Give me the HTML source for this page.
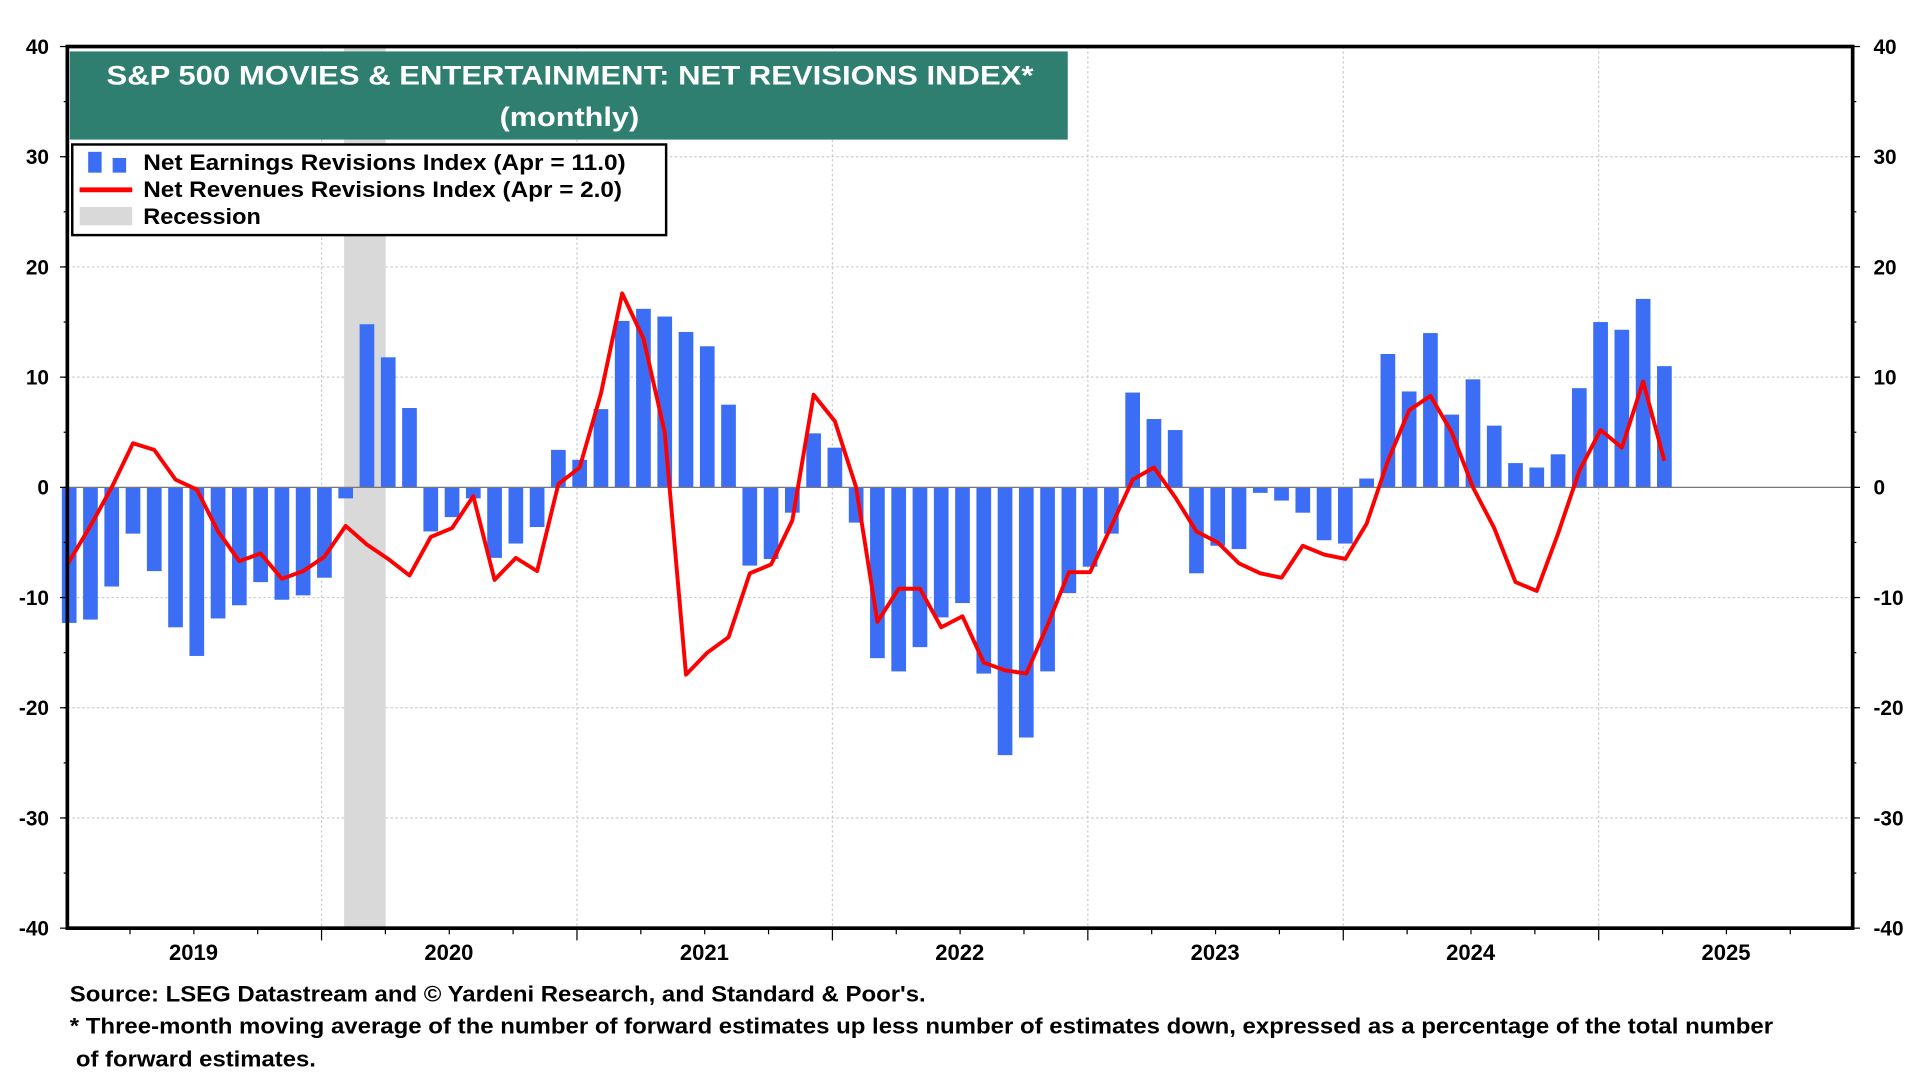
<!DOCTYPE html>
<html><head><meta charset="utf-8"><style>
html,body{margin:0;padding:0;background:#fff;width:1920px;height:1080px;overflow:hidden}
svg{display:block;font-family:"Liberation Sans",Arial,sans-serif;font-weight:bold}
</style></head><body>
<svg id="chart" width="1920" height="1080" viewBox="0 0 1568 882" preserveAspectRatio="none" xmlns="http://www.w3.org/2000/svg">
<g id="grid"></g>
<rect x="281" y="38" width="34" height="720" fill="#d9d9d9"/>
<g id="bars"></g>
<line x1="55" x2="1513" y1="398" y2="398" stroke="#777" stroke-width="1"/>
<polyline id="revline" fill="none" stroke="#ff0000" stroke-width="3.2" stroke-linejoin="round"/>
<rect x="55" y="38" width="1458" height="720" fill="none" stroke="#000" stroke-width="3"/>
<g id="axes"></g>
<g>
<rect x="57" y="42" width="815" height="72" fill="#2e7f70"/>
<text x="87" y="69" fill="#fff" font-size="22" textLength="757" lengthAdjust="spacingAndGlyphs">S&amp;P 500 MOVIES &amp; ENTERTAINMENT: NET REVISIONS INDEX*</text>
<text x="408" y="103" fill="#fff" font-size="22" textLength="114" lengthAdjust="spacingAndGlyphs">(monthly)</text>
</g>
<g>
<rect x="59" y="118" width="485" height="74" fill="#fff" stroke="#000" stroke-width="2"/>
<rect x="72" y="124" width="11" height="17" fill="#3b6ef5"/><rect x="92" y="129" width="11" height="12" fill="#3b6ef5"/>
<text x="117" y="139" font-size="18" textLength="394" lengthAdjust="spacingAndGlyphs">Net Earnings Revisions Index (Apr  = 11.0)</text>
<line x1="65" x2="108" y1="155" y2="155" stroke="#ff0000" stroke-width="4"/>
<text x="117" y="161" font-size="18" textLength="391" lengthAdjust="spacingAndGlyphs">Net Revenues Revisions Index (Apr  = 2.0)</text>
<rect x="65" y="169" width="43" height="15" fill="#d9d9d9"/>
<text x="117" y="183" font-size="18" textLength="96" lengthAdjust="spacingAndGlyphs">Recession</text>
</g>
<text x="57" y="818" font-size="18" textLength="699" lengthAdjust="spacingAndGlyphs">Source: LSEG Datastream and © Yardeni Research, and Standard &amp; Poor's.</text>
<text x="57" y="844" font-size="18" textLength="1391" lengthAdjust="spacingAndGlyphs">* Three-month moving average of the number of forward estimates up less number of estimates down, expressed as a percentage of the total number</text>
<text x="62" y="871" font-size="18" textLength="196" lengthAdjust="spacingAndGlyphs">of forward estimates.</text>
</svg>
<script>
const earnings = [-12.3,-12,-9,-4.2,-7.6,-12.7,-15.3,-11.9,-10.7,-8.6,-10.2,-9.8,
-8.2,-1,14.8,11.8,7.2,-4,-2.7,-1,-6.4,-5.1,-3.6,3.4,
2.5,7.1,15.1,16.2,15.5,14.1,12.8,7.5,-7.1,-6.5,-2.3,4.9,
3.6,-3.2,-15.5,-16.7,-14.5,-11.8,-10.5,-16.9,-24.3,-22.7,-16.7,-9.6,
-7.2,-4.2,8.6,6.2,5.2,-7.8,-5.3,-5.6,-0.5,-1.2,-2.3,-4.8,
-5.1,0.8,12.1,8.7,14,6.6,9.8,5.6,2.2,1.8,3,9,
15,14.3,17.1,11];
const revenues = [-7,-3.5,0,4,3.4,0.7,-0.2,-4,-6.7,-6,-8.3,-7.6,
-6.3,-3.5,-5.2,-6.5,-8,-4.5,-3.7,-0.8,-8.4,-6.4,-7.6,0.3,
1.8,8.5,17.6,13.5,5,-17,-15,-13.6,-7.8,-7,-3,8.4,
6,0,-12.2,-9.2,-9.2,-12.7,-11.7,-15.9,-16.6,-16.9,-12.5,-7.7,
-7.7,-3.5,0.7,1.8,-0.9,-4,-5,-6.9,-7.8,-8.2,-5.3,-6.1,
-6.5,-3.3,2.4,7,8.3,5,0,-3.7,-8.6,-9.4,-4.2,1.5,
5.2,3.6,9.6,2.4];
const yTicks = [40,30,20,10,0,-10,-20,-30,-40];
const years = ["2019","2020","2021","2022","2023","2024","2025"];
const NS="http://www.w3.org/2000/svg";
const X0=55,X1=1513,Y0=38,Y1=758;
function xm(i){return 56.5+i*17.37;}
function y(v){return Y0+(40-v)*(Y1-Y0)/80;}
function mk(t,a,p){const e=document.createElementNS(NS,t);for(const k in a)e.setAttribute(k,a[k]);p.appendChild(e);return e;}
const grid=document.getElementById('grid'),axes=document.getElementById('axes'),bars=document.getElementById('bars');
yTicks.forEach(v=>{
 if(v!==40&&v!==-40&&v!==0){const g=mk('line',{x1:X0,x2:X1,y1:y(v),y2:y(v),stroke:'#ccc','stroke-dasharray':'2,2'},grid);
 
 }
 const l=mk('text',{x:40,y:y(v)+6,'font-size':17,'text-anchor':'end'},axes);l.textContent=v;
 
 
 const r=mk('text',{x:1530,y:y(v)+6,'font-size':17},axes);r.textContent=v;
 
 
 mk('line',{x1:X0-6,x2:X0,y1:y(v),y2:y(v),stroke:'#000'},axes);
 mk('line',{x1:X1,x2:X1+6,y1:y(v),y2:y(v),stroke:'#000'},axes);
});
for(let v=-35;v<40;v+=5){mk('line',{x1:X0-3,x2:X0,y1:y(v),y2:y(v),stroke:'#000'},axes);mk('line',{x1:X1,x2:X1+3,y1:y(v),y2:y(v),stroke:'#000'},axes);}
years.forEach((yr,k)=>{
 const xs=54+k*208.6;
 if(k>0){const g=mk('line',{x1:xs,x2:xs,y1:Y0,y2:Y1,stroke:'#ccc','stroke-dasharray':'2,2'},grid);
 
 
 mk('line',{x1:xs,x2:xs,y1:Y1,y2:Y1+10,stroke:'#000'},axes);}
 for(let q=1;q<4;q++){mk('line',{x1:xs+q*52.15,x2:xs+q*52.15,y1:Y1,y2:Y1+5,stroke:'#000'},axes);}
 const t=mk('text',{x:xs+104,y:784,'font-size':18,'text-anchor':'middle'},axes);t.textContent=yr;
 
 
});
earnings.forEach((v,i)=>{
 const top=Math.min(y(v),y(0)),h=Math.abs(y(v)-y(0));
 const b=mk('rect',{x:xm(i)-6,y:top,width:12,height:Math.max(h,1),fill:'#3b6ef5'},bars);
 
 
});
document.getElementById('revline').setAttribute('points',revenues.map((v,i)=>(i===0?55:xm(i))+','+y(v)).join(' '));
</script>
</body></html>
